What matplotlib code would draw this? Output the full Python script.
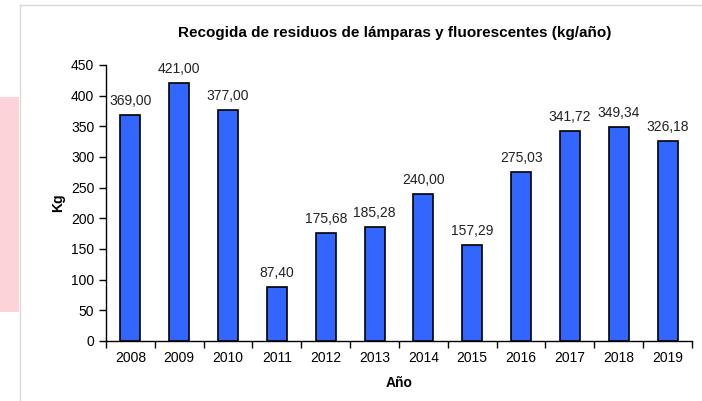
import matplotlib
matplotlib.use("Agg")
import matplotlib.pyplot as plt
from matplotlib.patches import Rectangle
from matplotlib.lines import Line2D

years = ["2008", "2009", "2010", "2011", "2012", "2013", "2014", "2015", "2016", "2017", "2018", "2019"]
values = [369.00, 421.00, 377.00, 87.40, 175.68, 185.28, 240.00, 157.29, 275.03, 341.72, 349.34, 326.18]
labels = ["369,00", "421,00", "377,00", "87,40", "175,68", "185,28", "240,00", "157,29", "275,03", "341,72", "349,34", "326,18"]

plt.rcParams['font.family'] = ['Liberation Sans', 'DejaVu Sans']

W, H = 702, 401
fig = plt.figure(figsize=(W/100, H/100), dpi=100)
fig.patch.set_facecolor('white')

# background decoration: pink strip and frame
fig.add_artist(Rectangle((0, 1-312/H), 19/W, (312-97)/H, transform=fig.transFigure,
                         facecolor='#FBD3D8', edgecolor='none', zorder=0))
fig.add_artist(Line2D([20/W, 20/W], [0, 1-5/H], transform=fig.transFigure, color='#D9D9D9', lw=1))
fig.add_artist(Line2D([20/W, 1], [1-5/H, 1-5/H], transform=fig.transFigure, color='#D9D9D9', lw=1))

ax = fig.add_axes([106/W, 1-341/H, (692-106)/W, (341-65)/H])
x = list(range(len(years)))
ax.bar(x, values, width=0.41, color='#3366FF', edgecolor='black', linewidth=1.2, zorder=3)
for xi, v, lab in zip(x, values, labels):
    ax.annotate(lab, (xi, v), xytext=(0, 5), textcoords='offset points',
                ha='center', va='bottom', fontsize=10, color='#222222')

ax.set_xlim(-0.5, len(years)-0.5)
ax.set_ylim(0, 450)
ax.set_yticks(range(0, 451, 50))
ax.set_xticks(x)
ax.set_xticklabels(years, fontsize=10)
ax.tick_params(axis='x', which='major', length=0, pad=7)
ax.set_xticks([i - 0.5 for i in range(len(years)+1)], minor=True)
ax.tick_params(axis='x', which='minor', length=5, direction='out', width=1)
ax.tick_params(axis='y', length=5, direction='out', labelsize=10, width=1)
for s in ['top', 'right']:
    ax.spines[s].set_visible(False)
ax.spines['left'].set_linewidth(1)
ax.spines['bottom'].set_linewidth(1)
ax.set_facecolor('white')
ax.set_ylabel('Kg', fontsize=10, fontweight='bold', labelpad=4)
ax.set_xlabel('Año', fontsize=10, fontweight='bold', labelpad=8)
fig.text(395/W, 1-33/H, 'Recogida de residuos de lámparas y fluorescentes (kg/año)',
         ha='center', va='center', fontsize=11, fontweight='bold')

fig.savefig('out.png', dpi=100)
